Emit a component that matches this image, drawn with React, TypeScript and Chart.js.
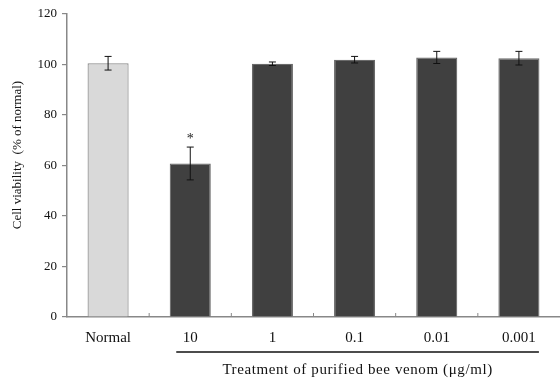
import React, { useEffect, useRef } from "react";
import { Chart, registerables } from "chart.js";

Chart.register(...registerables);

const categories = ["Normal", "10", "1", "0.1", "0.01", "0.001"];
const viability = [100.5, 60.8, 100.3, 101.9, 102.8, 102.5];
const sem = [2.7, 6.5, 0.7, 1.3, 2.4, 2.7];
const significant = [false, true, false, false, false, false];
const barColors = ["#d9d9d9", "#404040", "#404040", "#404040", "#404040", "#404040"];
const barBorders = ["#8a8a8a", "#6a6a6a", "#6a6a6a", "#6a6a6a", "#6a6a6a", "#6a6a6a"];
const yTitle = "Cell viability  (% of normal)";
const groupTitle = "Treatment of purified bee venom (\u03bcg/ml)";
const FONT = "'Liberation Serif', 'Times New Roman', serif";

const annotate = {
  id: "annotate",
  afterDatasetsDraw(chart: any) {
    const ctx = chart.ctx;
    const meta = chart.getDatasetMeta(0);
    const y = chart.scales.y;
    ctx.save();
    ctx.strokeStyle = "#111";
    ctx.lineWidth = 1;
    meta.data.forEach((bar: any, i: number) => {
      const x = bar.x;
      const top = y.getPixelForValue(viability[i] + sem[i]);
      const bot = y.getPixelForValue(viability[i] - sem[i]);
      ctx.beginPath();
      ctx.moveTo(x, top);
      ctx.lineTo(x, bot);
      ctx.moveTo(x - 3.5, top);
      ctx.lineTo(x + 3.5, top);
      ctx.moveTo(x - 3.5, bot);
      ctx.lineTo(x + 3.5, bot);
      ctx.stroke();
      if (significant[i]) {
        ctx.fillStyle = "#222";
        ctx.font = `14px ${FONT}`;
        ctx.textAlign = "center";
        ctx.textBaseline = "bottom";
        ctx.fillText("*", x, top - 1);
      }
    });
    ctx.restore();
  },
  afterDraw(chart: any) {
    const ctx = chart.ctx;
    const xs = chart.scales.x;
    const area = chart.chartArea;
    ctx.save();
    // inward ticks at category boundaries
    ctx.strokeStyle = "#888";
    ctx.lineWidth = 1;
    for (let k = 1; k < categories.length; k++) {
      const bx = (xs.getPixelForValue(k - 1) + xs.getPixelForValue(k)) / 2;
      ctx.beginPath();
      ctx.moveTo(bx, area.bottom);
      ctx.lineTo(bx, area.bottom - 4);
      ctx.stroke();
    }
    // group underline
    const x1 = xs.getPixelForValue(1) - 14;
    const x2 = xs.getPixelForValue(categories.length - 1) + 20;
    ctx.strokeStyle = "#111";
    ctx.lineWidth = 1.5;
    ctx.beginPath();
    ctx.moveTo(x1, 352);
    ctx.lineTo(x2, 352);
    ctx.stroke();
    ctx.fillStyle = "#111";
    ctx.font = `15px ${FONT}`;
    (ctx as any).letterSpacing = "0.6px";
    ctx.textAlign = "center";
    ctx.textBaseline = "middle";
    ctx.fillText(groupTitle, (x1 + x2) / 2, 370);
    (ctx as any).letterSpacing = "0px";
    // y title
    ctx.translate(18, 155);
    ctx.rotate(-Math.PI / 2);
    ctx.font = `13px ${FONT}`;
    ctx.fillText(yTitle, 0, 0);
    ctx.restore();
  },
};

export default function App() {
  const ref = useRef<HTMLCanvasElement | null>(null);
  useEffect(() => {
    document.body.style.margin = "0";
    const chart = new Chart(ref.current as HTMLCanvasElement, {
      type: "bar",
      data: {
        labels: categories,
        datasets: [
          {
            data: viability,
            backgroundColor: barColors,
            borderColor: barBorders,
            borderWidth: 1.2,
            barPercentage: 0.5,
            categoryPercentage: 1,
          },
        ],
      },
      options: {
        responsive: false,
        animation: false,
        layout: { padding: { top: 14, left: 0, right: 0, bottom: 0 } },
        plugins: { legend: { display: false }, tooltip: { enabled: false } },
        scales: {
          x: {
            offset: true,
            grid: { display: false, drawTicks: false },
            border: { display: true, color: "#888", width: 1.5 },
            ticks: { color: "#111", font: { family: FONT, size: 15 }, padding: 12 },
            afterFit: (s: any) => {
              s.height = 63;
            },
          },
          y: {
            min: 0,
            max: 120,
            ticks: { stepSize: 20, color: "#111", font: { family: FONT, size: 13 }, padding: 5 },
            grid: { drawOnChartArea: false, tickLength: 5, color: "#888", lineWidth: 1.2 },
            border: { display: true, color: "#888", width: 1.5 },
            afterFit: (s: any) => {
              s.width = 67;
            },
          },
        },
      },
      plugins: [annotate],
    });
    return () => chart.destroy();
  }, []);
  return (
    <div style={{ width: 560, height: 380 }}>
      <canvas ref={ref} width={560} height={380} />
    </div>
  );
}
